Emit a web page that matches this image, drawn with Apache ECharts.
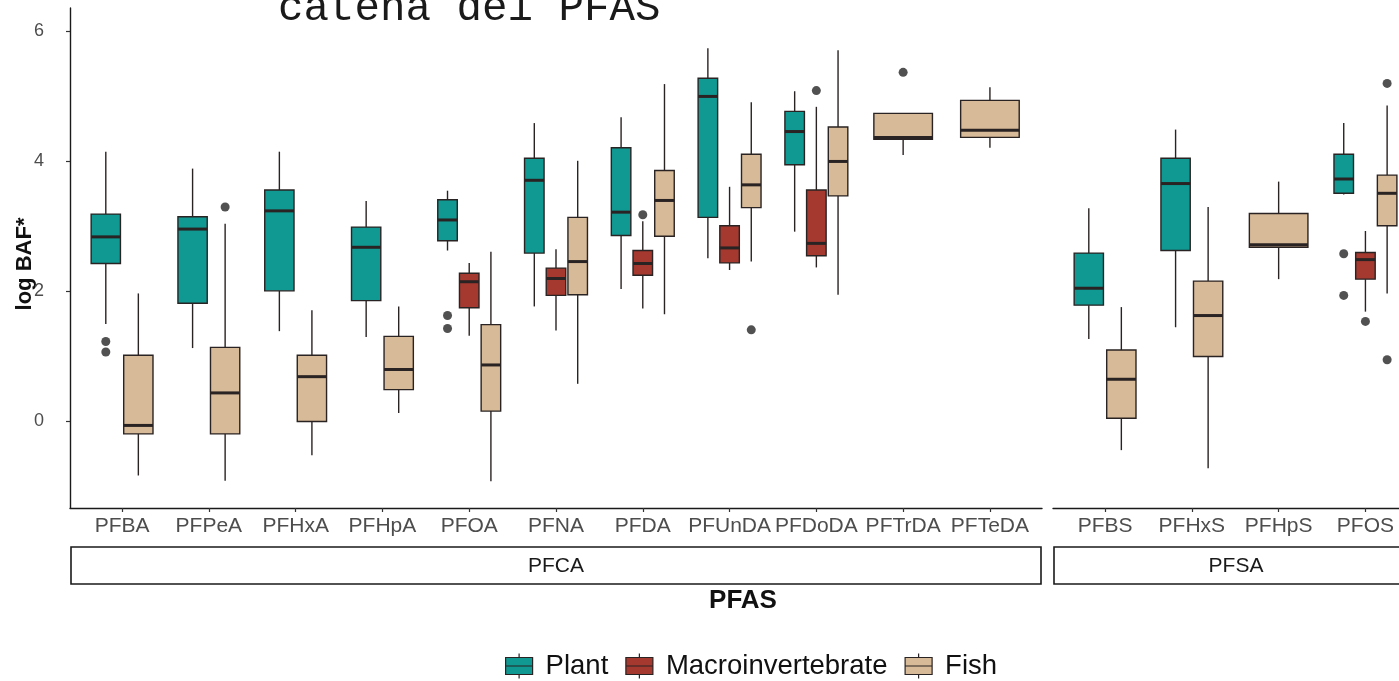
<!DOCTYPE html>
<html>
<head>
<meta charset="utf-8">
<title>log BAF* – PFAS</title>
<script src="https://cdn.jsdelivr.net/npm/echarts@6/dist/echarts.min.js"></script>
<style>
  html, body { margin: 0; padding: 0; background: #ffffff; }
  #chart { width: 1399px; height: 681px; }
</style>
</head>
<body>
<div id="chart"></div>
<script>
// ---- categories ----
const pfcaCats = ['PFBA', 'PFPeA', 'PFHxA', 'PFHpA', 'PFOA', 'PFNA', 'PFDA', 'PFUnDA', 'PFDoDA', 'PFTrDA', 'PFTeDA'];
const pfsaCats = ['PFBS', 'PFHxS', 'PFHpS', 'PFOS'];
const groupNames = ['Plant', 'Macroinvertebrate', 'Fish'];
const yTicks = [0, 2, 4, 6];

// ---- box statistics: [lower whisker, Q1, median, Q3, upper whisker]; null = no data ----
const plantPFCA = [
  [1.49, 2.42, 2.83, 3.18, 4.14],
  [1.12, 1.81, 2.95, 3.14, 3.88],
  [1.38, 2.00, 3.23, 3.55, 4.14],
  [1.29, 1.85, 2.67, 2.98, 3.38],
  [2.62, 2.77, 3.09, 3.40, 3.54],
  [1.76, 2.58, 3.70, 4.04, 4.58],
  [2.03, 2.85, 3.21, 4.20, 4.67],
  [2.50, 3.13, 4.99, 5.27, 5.73],
  [2.91, 3.94, 4.45, 4.76, 5.07],
  null,
  null
];
const macroPFCA = [
  null, null, null, null,
  [1.31, 1.74, 2.14, 2.27, 2.43],
  [1.39, 1.93, 2.19, 2.35, 2.64],
  [1.73, 2.24, 2.42, 2.62, 3.07],
  [2.32, 2.43, 2.66, 3.00, 3.60],
  [2.36, 2.54, 2.73, 3.55, 4.83],
  null, null
];
const fishPFCA = [
  [-0.84, -0.20, -0.07, 1.01, 1.96],
  [-0.92, -0.20, 0.43, 1.13, 3.03],
  [-0.53, -0.01, 0.68, 1.01, 1.70],
  [0.12, 0.48, 0.79, 1.30, 1.76],
  [-0.93, 0.15, 0.86, 1.48, 2.60],
  [0.57, 1.94, 2.45, 3.13, 4.00],
  [1.64, 2.84, 3.39, 3.85, 5.18],
  [2.45, 3.28, 3.63, 4.10, 4.90],
  [1.94, 3.46, 3.99, 4.52, 5.70],
  [4.09, 4.33, 4.36, 4.73, 4.73],
  [4.20, 4.36, 4.47, 4.93, 5.13]
];
const plantPFSA = [
  [1.26, 1.78, 2.04, 2.58, 3.27],
  [1.44, 2.62, 3.65, 4.04, 4.48],
  null,
  [3.48, 3.50, 3.72, 4.10, 4.58]
];
const macroPFSA = [null, null, null, [1.68, 2.18, 2.48, 2.59, 2.92]];
const fishPFSA = [
  [-0.45, 0.04, 0.64, 1.09, 1.75],
  [-0.73, 0.99, 1.62, 2.15, 3.29],
  [2.18, 2.67, 2.71, 3.19, 3.68],
  [1.96, 3.00, 3.50, 3.78, 4.85]
];

// ---- outliers per category ----
const plantPFCAOut = [[1.22, 1.06], [], [], [], [1.62, 1.42], [], [], [], [], [], []];
const macroPFCAOut = [[], [], [], [], [], [], [3.17], [], [5.08], [], []];
const fishPFCAOut  = [[], [3.29], [], [], [], [], [], [1.40], [], [5.36], []];
const plantPFSAOut = [[], [], [], [2.57, 1.93]];
const macroPFSAOut = [[], [], [], [1.53]];
const fishPFSAOut  = [[], [], [], [5.19, 0.94]];

// ---- styling ----
const COLORS = { 'Plant': '#0f9992', 'Macroinvertebrate': '#a5392f', 'Fish': '#d7ba97' };
const INK = '#2a2323';
const SANS = '"Liberation Sans", Arial, Helvetica, sans-serif';
const Y_MIN = -1.34, Y_MAX = 6.35;

// Dodge the groups present in each category (total width 0.75, padding 0.1)
function buildPanel(cats, stats, outs) {
  const boxes = groupNames.map(() => []);
  const points = groupNames.map(() => []);
  cats.forEach((c, i) => {
    const present = groupNames.map((g, gi) => gi).filter(gi => stats[gi][i]);
    const n = present.length;
    const slot = 0.75 / n;
    present.forEach((gi, k) => {
      const xc = i + 1 + (k - (n - 1) / 2) * slot;
      const hw = slot * 0.9 / 2;
      boxes[gi].push([xc, hw].concat(stats[gi][i]));
      outs[gi][i].forEach(v => points[gi].push([xc, v]));
    });
  });
  return { boxes, points };
}

const panels = [
  buildPanel(pfcaCats, [plantPFCA, macroPFCA, fishPFCA], [plantPFCAOut, macroPFCAOut, fishPFCAOut]),
  buildPanel(pfsaCats, [plantPFSA, macroPFSA, fishPFSA], [plantPFSAOut, macroPFSAOut, fishPFSAOut])
];

function renderBox(params, api) {
  const xc = api.value(0), hw = api.value(1);
  const lo = api.value(2), q1 = api.value(3), md = api.value(4), q3 = api.value(5), hi = api.value(6);
  const tl = api.coord([xc - hw, q3]);
  const br = api.coord([xc + hw, q1]);
  const cx = api.coord([xc, md])[0];
  const yMd = api.coord([xc, md])[1];
  const yLo = api.coord([xc, lo])[1];
  const yHi = api.coord([xc, hi])[1];
  const line = { stroke: INK, lineWidth: 1.4 };
  return {
    type: 'group',
    children: [
      { type: 'line', shape: { x1: cx, y1: yHi, x2: cx, y2: tl[1] }, style: line },
      { type: 'line', shape: { x1: cx, y1: br[1], x2: cx, y2: yLo }, style: line },
      { type: 'rect', shape: { x: tl[0], y: tl[1], width: br[0] - tl[0], height: br[1] - tl[1] },
        style: { fill: api.visual('color'), stroke: INK, lineWidth: 1.4 } },
      { type: 'line', shape: { x1: tl[0], y1: yMd, x2: br[0], y2: yMd }, style: { stroke: INK, lineWidth: 3 } }
    ]
  };
}

const series = [];
panels.forEach((p, pi) => {
  groupNames.forEach((g, gi) => {
    series.push({
      name: g, type: 'custom', xAxisIndex: pi, yAxisIndex: pi,
      renderItem: renderBox, itemStyle: { color: COLORS[g] },
      encode: { x: 0, y: [2, 3, 4, 5, 6] },
      data: p.boxes[gi], silent: true, z: 2
    });
    series.push({
      name: g, type: 'scatter', xAxisIndex: pi, yAxisIndex: pi,
      symbol: 'circle', symbolSize: 9, itemStyle: { color: '#262626' },
      data: p.points[gi], silent: true, z: 3
    });
  });
});

function xAxisFor(gridIndex, cats) {
  const ticks = cats.map((c, i) => i + 1);
  return {
    gridIndex, type: 'value', min: 0.4, max: cats.length + 0.6,
    axisLine: { show: true, onZero: false, lineStyle: { color: '#1a1a1a', width: 1.4 } },
    axisTick: { show: true, customValues: ticks, length: 4, lineStyle: { color: '#333', width: 1.2 } },
    axisLabel: { customValues: ticks, formatter: v => cats[Math.round(v) - 1], fontSize: 21,
                 color: '#4d4d4d', margin: 8, fontFamily: SANS },
    splitLine: { show: false }
  };
}

const legendIcon = 'path://M13.5,0L13.5,4M0,4L27,4L27,21L0,21ZM0,12.5L27,12.5M13.5,21L13.5,25';

const option = {
  backgroundColor: '#ffffff',
  animation: false,
  grid: [
    { left: 70, top: 8, width: 972, height: 500, outerBoundsMode: 'none', containLabel: false },
    { left: 1053, top: 8, width: 364.5, height: 500, outerBoundsMode: 'none', containLabel: false }
  ],
  xAxis: [xAxisFor(0, pfcaCats), xAxisFor(1, pfsaCats)],
  yAxis: [
    {
      gridIndex: 0, type: 'value', min: Y_MIN, max: Y_MAX,
      axisLine: { show: true, onZero: false, lineStyle: { color: '#1a1a1a', width: 1.4 } },
      axisTick: { show: true, customValues: yTicks, length: 4, lineStyle: { color: '#333', width: 1.2 } },
      axisLabel: { customValues: yTicks, fontSize: 18, color: '#4d4d4d', margin: 26, fontFamily: SANS },
      splitLine: { show: false }
    },
    { gridIndex: 1, type: 'value', min: Y_MIN, max: Y_MAX, show: false }
  ],
  legend: {
    left: 505, top: 652, padding: 0, itemGap: 17, itemWidth: 27, itemHeight: 25,
    textStyle: { fontSize: 27.5, color: '#111', fontFamily: SANS, padding: [0, 0, 0, 8] },
    itemStyle: { borderColor: INK, borderWidth: 1.2 },
    data: groupNames.map(g => ({ name: g, icon: legendIcon, itemStyle: { color: COLORS[g], borderColor: INK, borderWidth: 1.2 } }))
  },
  graphic: [
    { type: 'text', x: 278, y: 9,
      style: { text: 'catena dei PFAS', font: '42.5px "Liberation Mono", "Courier New", monospace',
               fill: '#1a1a1a', verticalAlign: 'middle' } },
    { type: 'text', x: 25, y: 264, rotation: Math.PI / 2,
      style: { text: 'log BAF*', font: 'bold 22px ' + SANS, fill: '#111', align: 'center', verticalAlign: 'middle' } },
    { type: 'rect', shape: { x: 71, y: 547, width: 970, height: 37 },
      style: { fill: '#ffffff', stroke: '#1a1a1a', lineWidth: 1.6 } },
    { type: 'rect', shape: { x: 1054, y: 547, width: 372, height: 37 },
      style: { fill: '#ffffff', stroke: '#1a1a1a', lineWidth: 1.6 } },
    { type: 'text', x: 556, y: 566,
      style: { text: 'PFCA', font: '21px ' + SANS, fill: '#1a1a1a', align: 'center', verticalAlign: 'middle' } },
    { type: 'text', x: 1236, y: 566,
      style: { text: 'PFSA', font: '21px ' + SANS, fill: '#1a1a1a', align: 'center', verticalAlign: 'middle' } },
    { type: 'text', x: 743, y: 601,
      style: { text: 'PFAS', font: 'bold 26px ' + SANS, fill: '#111', align: 'center', verticalAlign: 'middle' } }
  ],
  series
};

const chart = echarts.init(document.getElementById('chart'), null, { renderer: 'canvas' });
chart.setOption(option);
</script>
</body>
</html>
